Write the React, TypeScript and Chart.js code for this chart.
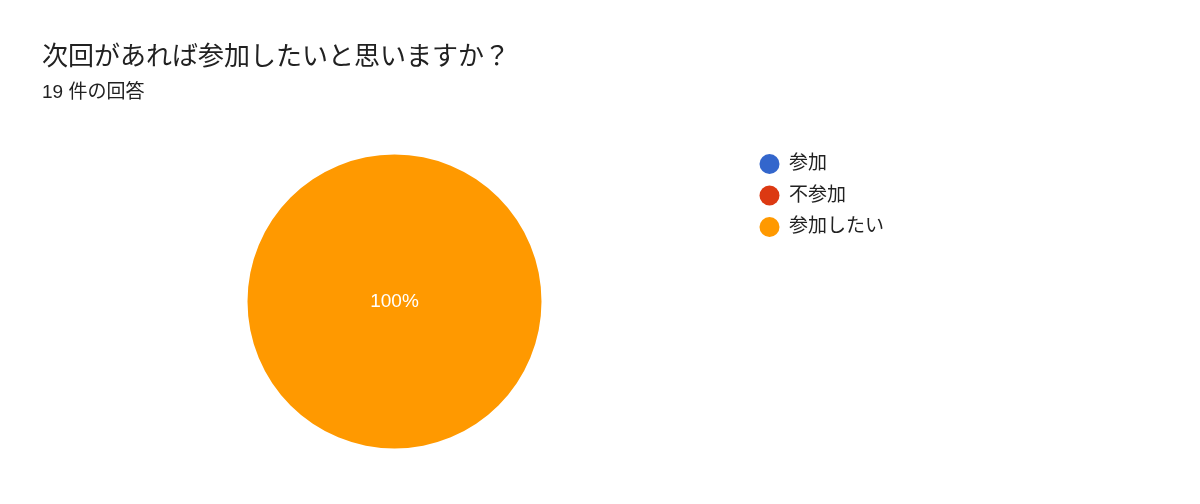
import { useEffect, useRef } from "react";
import { Chart, registerables } from "chart.js";

Chart.register(...registerables);

// Survey answers (Google Forms style pie)
const titleText = "次回があれば参加したいと思いますか？";
const subtitleText = "19 件の回答";
const labels = ["参加", "不参加", "参加したい"];
const counts = [0, 0, 19];

const palette = ["#3366cc", "#dc3912", "#ff9900"];
const FONT = "'Liberation Sans', 'Noto Sans CJK JP', sans-serif";

// Draws the percentage on each non-empty slice
const sliceLabels = {
  id: "sliceLabels",
  afterDatasetsDraw(chart: Chart) {
    const { ctx } = chart;
    const meta = chart.getDatasetMeta(0);
    const values = chart.data.datasets[0].data as number[];
    const total = values.reduce((a, b) => a + b, 0);
    if (!total) return;
    ctx.save();
    ctx.fillStyle = "#ffffff";
    ctx.font = `19px ${FONT}`;
    ctx.textAlign = "center";
    ctx.textBaseline = "middle";
    meta.data.forEach((arc: any, i: number) => {
      const v = values[i];
      if (!v) return;
      const pct = Math.round((v / total) * 100);
      const props = arc.getProps(["x", "y", "startAngle", "endAngle"], true);
      let pos;
      if (props.endAngle - props.startAngle >= Math.PI * 2 - 1e-6) {
        pos = { x: props.x, y: props.y };
      } else {
        pos = arc.tooltipPosition(true);
      }
      ctx.fillText(`${pct}%`, pos.x, pos.y);
    });
    ctx.restore();
  },
};

export default function App() {
  const chartRef = useRef<HTMLCanvasElement>(null);
  const chartInstance = useRef<Chart | null>(null);

  useEffect(() => {
    document.body.style.margin = "0";
    if (!chartRef.current) return;
    if (chartInstance.current) {
      chartInstance.current.destroy();
    }
    const ctx = chartRef.current.getContext("2d");
    if (!ctx) return;

    chartInstance.current = new Chart(ctx, {
      type: "pie",
      data: {
        labels,
        datasets: [
          {
            data: counts,
            backgroundColor: palette,
            borderWidth: 0,
            radius: 147,
          },
        ],
      },
      options: {
        responsive: false,
        animation: false,
        layout: {
          padding: { left: 42, right: 306, top: 0, bottom: 43 },
        },
        plugins: {
          title: {
            display: true,
            text: titleText,
            align: "start",
            color: "#212121",
            font: { family: FONT, size: 26, weight: "normal" },
            padding: { top: 42, bottom: 0 },
          },
          subtitle: {
            display: true,
            text: subtitleText,
            align: "start",
            color: "#212121",
            font: { family: FONT, size: 19, weight: "normal" },
            padding: { top: 8, bottom: 38 },
          },
          legend: {
            position: "right",
            align: "start",
            fullSize: false,
            labels: {
              usePointStyle: true,
              pointStyle: "circle",
              pointStyleWidth: 20,
              boxHeight: 14.2,
              padding: 12.5,
              color: "#212121",
              font: { family: FONT, size: 19 },
            },
          },
          tooltip: { enabled: false },
        },
      },
      plugins: [sliceLabels],
    });

    return () => {
      if (chartInstance.current) {
        chartInstance.current.destroy();
        chartInstance.current = null;
      }
    };
  }, []);

  return <canvas ref={chartRef} width={1200} height={504} />;
}
